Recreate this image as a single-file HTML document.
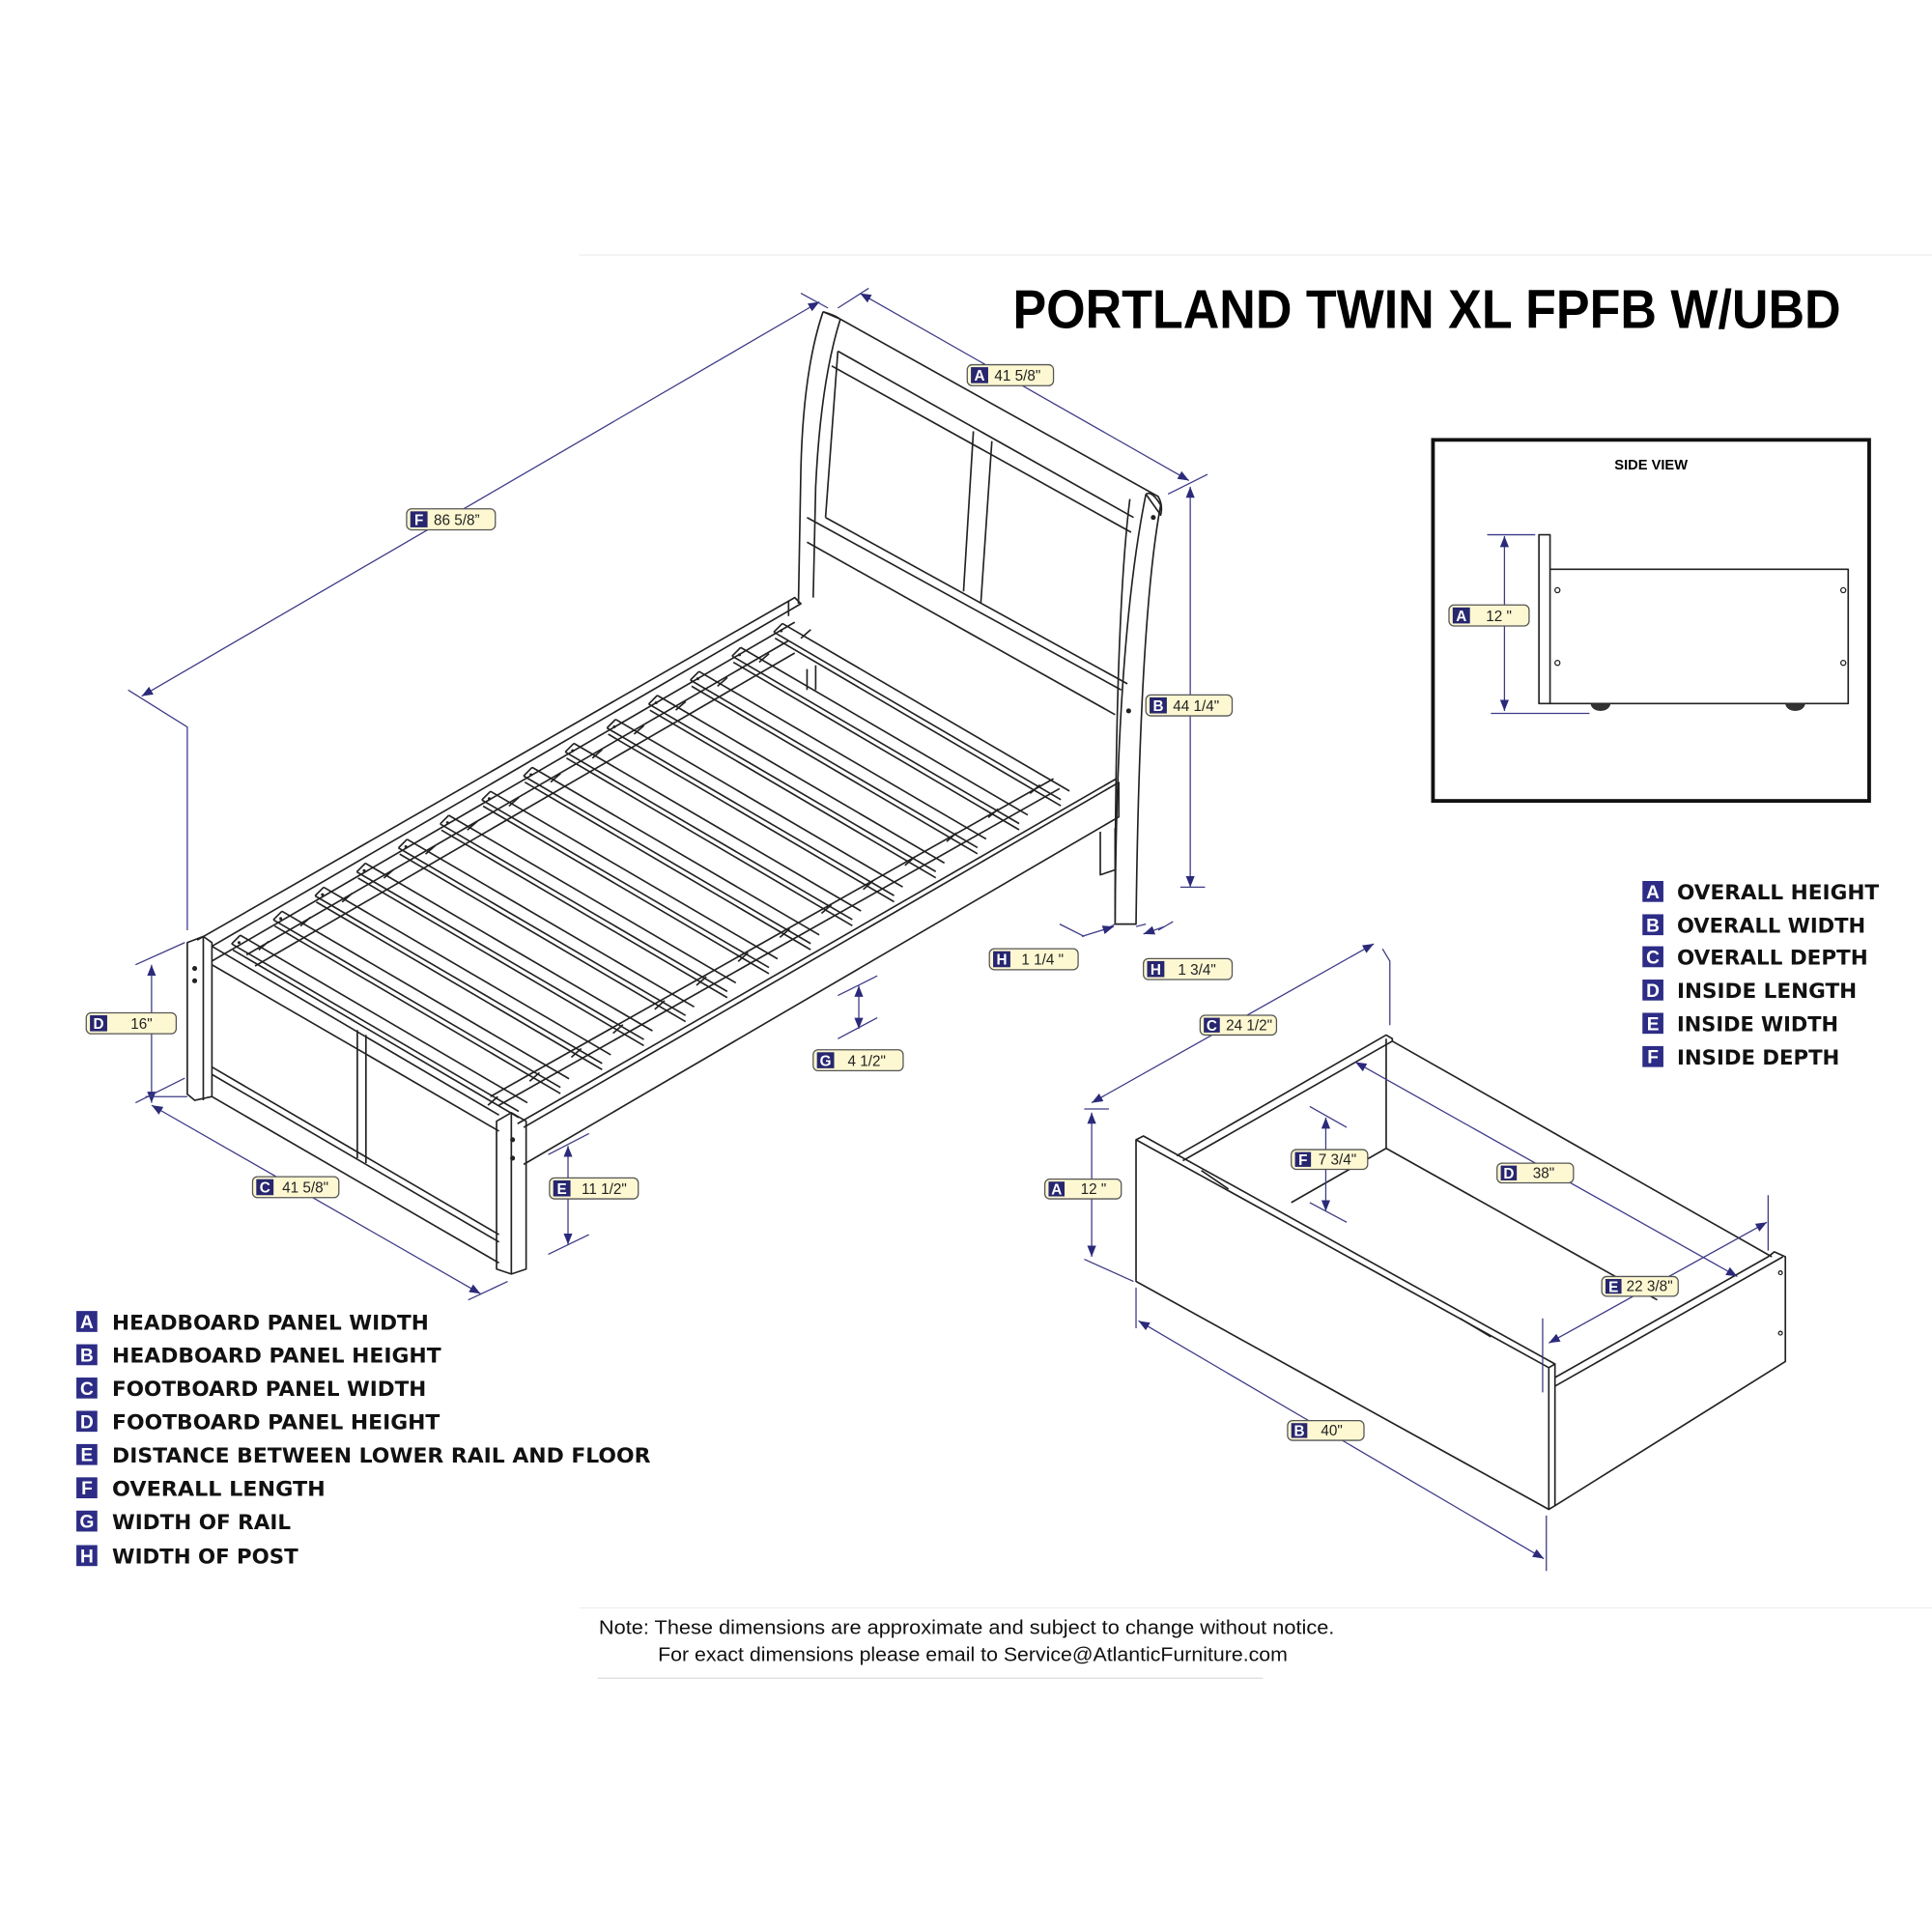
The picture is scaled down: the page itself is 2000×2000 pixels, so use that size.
<!DOCTYPE html>
<html><head><meta charset="utf-8"><style>
html,body{margin:0;padding:0;background:#fff;}
svg{display:block;}
.l{fill:none;stroke:#222;stroke-width:1.3;stroke-linejoin:round}
.d{fill:none;stroke:#3b3a86;stroke-width:1}
.t{font-family:"Liberation Sans",sans-serif;font-size:12px;fill:#222}
.k{font-family:"Liberation Sans",sans-serif;font-size:12px;font-weight:bold;fill:#fff;text-anchor:middle}
.lg{font-family:"DejaVu Sans","Liberation Sans",sans-serif;font-size:16.5px;font-weight:bold;fill:#111}
.lk{font-family:"Liberation Sans",sans-serif;font-size:15px;font-weight:bold;fill:#fff;text-anchor:middle}
</style></head><body>
<svg id="s" width="2000" height="2000" viewBox="0 0 1568 1568" xmlns="http://www.w3.org/2000/svg">
<defs>
<marker id="ar" viewBox="0 0 10 10" refX="10" refY="5" markerWidth="9" markerHeight="9" orient="auto-start-reverse"><path d="M0,1 L10,5 L0,9 z" fill="#2b2a7a"/></marker>
</defs>
<rect width="1568" height="1568" fill="#fff"/>
<line x1="470" y1="207" x2="1568" y2="207" stroke="#eee"/>
<line x1="470" y1="1305" x2="1568" y2="1305" stroke="#eee"/>
<line x1="485" y1="1362" x2="1025" y2="1362" stroke="#ddd"/>

<text x="822" y="266" font-family="Liberation Sans,sans-serif" font-weight="bold" font-size="44" textLength="672" lengthAdjust="spacingAndGlyphs" fill="#000">PORTLAND TWIN XL FPFB W/UBD</text>

<!-- headboard -->
<path class="l" d="M668,253 Q652,300 650,380 L648,490 M682,259 Q666,310 662,395 L660,485"/>
<path class="l" d="M668,253 L682,259 L940,403 Q944,410 942,418 L930,401 M682,259 Q678,256 668,253"/>
<path class="l" d="M930,401 Q935,398 942,410 Q925,500 922,750 L905,750 Q906,520 930,401"/>
<path class="l" d="M917,405 Q905,500 905,748"/>
<path class="l" d="M680,285 L920,420 M670,420 L680,285 M655,420 L910,560 M655,440 L905,580 M670,420 L915,555"/>
<path class="l" d="M790,350 L782,480 M805,358 L796,490"/>
<path class="l" d="M675,297 L918,432"/>
<circle cx="936" cy="420" r="2" fill="#222"/><circle cx="916" cy="577" r="2" fill="#222"/>
<path class="l" d="M893,675 L893,710 L905,706 L905,672"/>
<path class="l" d="M655,543 L655,560 M662,540 L662,560"/>

<!-- side rails -->
<path class="l" d="M160,763 L645,485 L650,490 L172,768 M172,780 L645,505 M640,488 L640,500"/>
<path class="l" d="M425,915 L908,635 L908,663 L425,945"/>
<path class="l" d="M420,912 L906,632"/>
<!-- footboard -->
<path class="l" d="M152,765 L165,760 L172,765 L172,890 L158,893 L152,888 Z M165,760 L165,893"/>
<path class="l" d="M172,768 L405,905 M172,783 L405,918 M172,866 L405,1002 M172,872 L405,1008 M172,890 L405,1025"/>
<path class="l" d="M290,836 L290,940 M297,840 L297,944"/>
<path class="l" d="M403,910 L415,903 L427,910 L427,1030 L415,1034 L403,1030 Z M415,903 L415,1034"/>
<circle cx="158" cy="786" r="2" fill="#222"/><circle cx="158" cy="796" r="2" fill="#222"/>
<circle cx="416" cy="925" r="2" fill="#222"/><circle cx="416" cy="940" r="2" fill="#222"/>
<g id="slats"></g>

<!-- dimension lines bed -->
<line class="d" x1="115" y1="565" x2="665" y2="245" marker-start="url(#ar)" marker-end="url(#ar)"/>
<path class="d" d="M104,560 L152,590 L152,755 M650,238 L672,250"/>
<line class="d" x1="698" y1="238" x2="965" y2="390" marker-start="url(#ar)" marker-end="url(#ar)"/>
<path class="d" d="M680,250 L705,234 M948,401 L980,385"/>
<line class="d" x1="966" y1="395" x2="966" y2="720" marker-start="url(#ar)" marker-end="url(#ar)"/>
<path class="d" d="M958,720 L978,720"/>
<line class="d" x1="123" y1="783" x2="123" y2="895" marker-start="url(#ar)" marker-end="url(#ar)"/>
<path class="d" d="M110,783 L150,765 M110,895 L150,875"/>
<line class="d" x1="123" y1="897" x2="390" y2="1050" marker-start="url(#ar)" marker-end="url(#ar)"/>
<path class="d" d="M118,890 L152,890 M380,1055 L412,1040"/>
<line class="d" x1="697" y1="800" x2="697" y2="835" marker-start="url(#ar)" marker-end="url(#ar)"/>
<path class="d" d="M680,808 L712,792 M680,843 L712,826"/>
<line class="d" x1="461" y1="930" x2="461" y2="1010" marker-start="url(#ar)" marker-end="url(#ar)"/>
<path class="d" d="M445,937 L478,920 M445,1018 L478,1002"/>
<path class="d" d="M860,750 L880,760 M896,755 L905,750 M922,752 L930,750 M940,755 L952,748"/>
<line class="d" x1="878" y1="760" x2="904" y2="752" marker-end="url(#ar)"/>
<line class="d" x1="928" y1="758" x2="945" y2="752" marker-start="url(#ar)"/>

<!-- side view -->
<rect x="1163" y="357" width="354" height="293" fill="none" stroke="#111" stroke-width="3"/>
<text x="1340" y="381" text-anchor="middle" font-family="Liberation Sans,sans-serif" font-weight="bold" font-size="11.5">SIDE VIEW</text>
<path class="l" d="M1249,434 L1258,434 L1258,571 L1249,571 Z M1258,462 L1500,462 L1500,571 L1258,571" stroke-width="1"/>
<circle cx="1264" cy="479" r="2" fill="none" stroke="#222"/><circle cx="1264" cy="538" r="2" fill="none" stroke="#222"/>
<circle cx="1496" cy="479" r="2" fill="none" stroke="#222"/><circle cx="1496" cy="538" r="2" fill="none" stroke="#222"/>
<path d="M1291,571 a8,6 0 0 0 16,0 z M1449,571 a8,6 0 0 0 16,0 z" fill="#333"/>
<line class="d" x1="1221" y1="435" x2="1221" y2="577" marker-start="url(#ar)" marker-end="url(#ar)"/>
<path class="d" d="M1207,434 L1246,434 M1210,579 L1290,579"/>

<!-- drawer -->
<path class="l" d="M922,925 L1257,1110 L1257,1225 L922,1040 Z M922,925 L928,922 L1262,1107 L1257,1110 M1262,1107 L1262,1222 L1257,1225"/>
<path class="l" d="M1262,1125 L1447,1020 M1262,1222 L1449,1105 L1449,1020 L1440,1016 L1435,1020 L1262,1118"/>
<path class="l" d="M955,938 L1125,840 L1130,843 L1130,845 L960,942 M1125,843 L1125,932 M1130,845 L1438,1020"/>
<path class="l" d="M1125,932 L1048,976 M1125,932 L1345,1055"/>
<path class="l" d="M975,950 L997,965 M1185,1070 L1210,1085"/>
<circle cx="1445" cy="1033" r="1.5" fill="none" stroke="#222"/><circle cx="1445" cy="1082" r="1.5" fill="none" stroke="#222"/>
<line class="d" x1="886" y1="903" x2="886" y2="1020" marker-start="url(#ar)" marker-end="url(#ar)"/>
<path class="d" d="M880,900 L900,900 M880,1022 L920,1040"/>
<line class="d" x1="886" y1="895" x2="1115" y2="766" marker-start="url(#ar)" marker-end="url(#ar)"/>
<path class="d" d="M1122,770 L1128,780 L1128,832"/>
<line class="d" x1="1076" y1="907" x2="1076" y2="983" marker-start="url(#ar)" marker-end="url(#ar)"/>
<path class="d" d="M1063,898 L1093,915 M1063,976 L1093,992"/>
<line class="d" x1="1100" y1="862" x2="1410" y2="1036" marker-start="url(#ar)" marker-end="url(#ar)"/>
<line class="d" x1="1257" y1="1090" x2="1434" y2="992" marker-start="url(#ar)" marker-end="url(#ar)"/>
<path class="d" d="M1252,1070 L1252,1130 M1435,970 L1435,1015"/>
<line class="d" x1="924" y1="1072" x2="1253" y2="1265" marker-start="url(#ar)" marker-end="url(#ar)"/>
<path class="d" d="M922,1045 L922,1078 M1255,1230 L1255,1275"/>

<!-- labels -->
<g font-family="Liberation Sans,sans-serif">
<g transform="translate(785,296)"><rect width="70" height="17" rx="4" fill="#fdf8d2" stroke="#555"/><rect x="3" y="2" width="14" height="13" fill="#27266f"/><text class="k" x="10" y="13">A</text><text class="t" x="22" y="13">41 5/8"</text></g>
<g transform="translate(330,413)"><rect width="72" height="17" rx="4" fill="#fdf8d2" stroke="#555"/><rect x="3" y="2" width="14" height="13" fill="#27266f"/><text class="k" x="10" y="13">F</text><text class="t" x="22" y="13">86 5/8”</text></g>
<g transform="translate(930,564)"><rect width="70" height="17" rx="4" fill="#fdf8d2" stroke="#555"/><rect x="3" y="2" width="14" height="13" fill="#27266f"/><text class="k" x="10" y="13">B</text><text class="t" x="22" y="13">44 1/4"</text></g>
<g transform="translate(803,770)"><rect width="72" height="17" rx="4" fill="#fdf8d2" stroke="#555"/><rect x="3" y="2" width="14" height="13" fill="#27266f"/><text class="k" x="10" y="13">H</text><text class="t" x="26" y="13">1 1/4 "</text></g>
<g transform="translate(928,778)"><rect width="72" height="17" rx="4" fill="#fdf8d2" stroke="#555"/><rect x="3" y="2" width="14" height="13" fill="#27266f"/><text class="k" x="10" y="13">H</text><text class="t" x="28" y="13">1 3/4"</text></g>
<g transform="translate(70,822)"><rect width="73" height="17" rx="4" fill="#fdf8d2" stroke="#555"/><rect x="3" y="2" width="14" height="13" fill="#27266f"/><text class="k" x="10" y="13">D</text><text class="t" x="36" y="13">16"</text></g>
<g transform="translate(660,852)"><rect width="73" height="17" rx="4" fill="#fdf8d2" stroke="#555"/><rect x="3" y="2" width="14" height="13" fill="#27266f"/><text class="k" x="10" y="13">G</text><text class="t" x="28" y="13">4 1/2"</text></g>
<g transform="translate(205,955)"><rect width="70" height="17" rx="4" fill="#fdf8d2" stroke="#555"/><rect x="3" y="2" width="14" height="13" fill="#27266f"/><text class="k" x="10" y="13">C</text><text class="t" x="24" y="13">41 5/8"</text></g>
<g transform="translate(446,956)"><rect width="72" height="17" rx="4" fill="#fdf8d2" stroke="#555"/><rect x="3" y="2" width="14" height="13" fill="#27266f"/><text class="k" x="10" y="13">E</text><text class="t" x="26" y="13">11 1/2"</text></g>
<g transform="translate(974,824)"><rect width="62" height="16" rx="4" fill="#fdf8d2" stroke="#555"/><rect x="3" y="2" width="13" height="12" fill="#27266f"/><text class="k" x="9.5" y="12.5" font-size="11">C</text><text class="t" x="21" y="12" font-size="11">24 1/2"</text></g>
<g transform="translate(1048,933)"><rect width="62" height="16" rx="4" fill="#fdf8d2" stroke="#555"/><rect x="3" y="2" width="13" height="12" fill="#27266f"/><text class="k" x="9.5" y="12.5" font-size="11">F</text><text class="t" x="22" y="12" font-size="11">7 3/4"</text></g>
<g transform="translate(1215,944)"><rect width="62" height="16" rx="4" fill="#fdf8d2" stroke="#555"/><rect x="3" y="2" width="13" height="12" fill="#27266f"/><text class="k" x="9.5" y="12.5" font-size="11">D</text><text class="t" x="29" y="12" font-size="11">38"</text></g>
<g transform="translate(848,957)"><rect width="62" height="16" rx="4" fill="#fdf8d2" stroke="#555"/><rect x="3" y="2" width="13" height="12" fill="#27266f"/><text class="k" x="9.5" y="12.5" font-size="11">A</text><text class="t" x="29" y="12" font-size="11">12 "</text></g>
<g transform="translate(1300,1036)"><rect width="62" height="16" rx="4" fill="#fdf8d2" stroke="#555"/><rect x="3" y="2" width="13" height="12" fill="#27266f"/><text class="k" x="9.5" y="12.5" font-size="11">E</text><text class="t" x="20" y="12" font-size="11">22 3/8"</text></g>
<g transform="translate(1045,1153)"><rect width="62" height="16" rx="4" fill="#fdf8d2" stroke="#555"/><rect x="3" y="2" width="13" height="12" fill="#27266f"/><text class="k" x="9.5" y="12.5" font-size="11">B</text><text class="t" x="27" y="12" font-size="11">40"</text></g>
<g transform="translate(1176,491)"><rect width="65" height="17" rx="4" fill="#fdf8d2" stroke="#555"/><rect x="3" y="2" width="14" height="13" fill="#27266f"/><text class="k" x="10" y="13">A</text><text class="t" x="30" y="13">12 "</text></g>
</g>

<!-- legends -->
<g>
<rect x="62" y="1064" width="17" height="17" fill="#2d2c86"/><text class="lk" x="70.5" y="1078">A</text><text class="lg" x="91" y="1079" textLength="257" lengthAdjust="spacingAndGlyphs">HEADBOARD PANEL WIDTH</text>
<rect x="62" y="1091" width="17" height="17" fill="#2d2c86"/><text class="lk" x="70.5" y="1105">B</text><text class="lg" x="91" y="1106" textLength="267" lengthAdjust="spacingAndGlyphs">HEADBOARD PANEL HEIGHT</text>
<rect x="62" y="1118" width="17" height="17" fill="#2d2c86"/><text class="lk" x="70.5" y="1132">C</text><text class="lg" x="91" y="1133" textLength="255" lengthAdjust="spacingAndGlyphs">FOOTBOARD PANEL WIDTH</text>
<rect x="62" y="1145" width="17" height="17" fill="#2d2c86"/><text class="lk" x="70.5" y="1159">D</text><text class="lg" x="91" y="1160" textLength="266" lengthAdjust="spacingAndGlyphs">FOOTBOARD PANEL HEIGHT</text>
<rect x="62" y="1172" width="17" height="17" fill="#2d2c86"/><text class="lk" x="70.5" y="1186">E</text><text class="lg" x="91" y="1187" textLength="437" lengthAdjust="spacingAndGlyphs">DISTANCE BETWEEN LOWER RAIL AND FLOOR</text>
<rect x="62" y="1199" width="17" height="17" fill="#2d2c86"/><text class="lk" x="70.5" y="1213">F</text><text class="lg" x="91" y="1214" textLength="173" lengthAdjust="spacingAndGlyphs">OVERALL LENGTH</text>
<rect x="62" y="1226" width="17" height="17" fill="#2d2c86"/><text class="lk" x="70.5" y="1240">G</text><text class="lg" x="91" y="1241" textLength="145" lengthAdjust="spacingAndGlyphs">WIDTH OF RAIL</text>
<rect x="62" y="1254" width="17" height="17" fill="#2d2c86"/><text class="lk" x="70.5" y="1268">H</text><text class="lg" x="91" y="1269" textLength="151" lengthAdjust="spacingAndGlyphs">WIDTH OF POST</text>

<rect x="1333" y="715" width="17" height="17" fill="#2d2c86"/><text class="lk" x="1341.5" y="729">A</text><text class="lg" x="1361" y="730" textLength="164" lengthAdjust="spacingAndGlyphs">OVERALL HEIGHT</text>
<rect x="1333" y="742" width="17" height="17" fill="#2d2c86"/><text class="lk" x="1341.5" y="756">B</text><text class="lg" x="1361" y="757" textLength="153" lengthAdjust="spacingAndGlyphs">OVERALL WIDTH</text>
<rect x="1333" y="768" width="17" height="17" fill="#2d2c86"/><text class="lk" x="1341.5" y="782">C</text><text class="lg" x="1361" y="783" textLength="155" lengthAdjust="spacingAndGlyphs">OVERALL DEPTH</text>
<rect x="1333" y="795" width="17" height="17" fill="#2d2c86"/><text class="lk" x="1341.5" y="809">D</text><text class="lg" x="1361" y="810" textLength="146" lengthAdjust="spacingAndGlyphs">INSIDE LENGTH</text>
<rect x="1333" y="822" width="17" height="17" fill="#2d2c86"/><text class="lk" x="1341.5" y="836">E</text><text class="lg" x="1361" y="837" textLength="131" lengthAdjust="spacingAndGlyphs">INSIDE WIDTH</text>
<rect x="1333" y="849" width="17" height="17" fill="#2d2c86"/><text class="lk" x="1341.5" y="863">F</text><text class="lg" x="1361" y="864" textLength="132" lengthAdjust="spacingAndGlyphs">INSIDE DEPTH</text>
</g>

<text x="486" y="1326" font-family="Liberation Sans,sans-serif" font-size="16" fill="#111" textLength="597" lengthAdjust="spacingAndGlyphs">Note:  These dimensions are approximate and subject to change without notice.</text>
<text x="534" y="1348" font-family="Liberation Sans,sans-serif" font-size="16" fill="#111" textLength="511" lengthAdjust="spacingAndGlyphs">For exact dimensions please email to Service@AtlanticFurniture.com</text>
</svg>
<script>
(function(){
var g=document.getElementById('slats'),h='';
var n=14,sx=188,sy=766,ex=628,ey=513,vx=233,vy=136;
for(var i=0;i<n;i++){
 var x=sx+(ex-sx)*i/(n-1),y=sy+(ey-sy)*i/(n-1);
 var wx=7,wy=-7;
 h+='<path class="l" d="M'+x+','+y+' L'+(x+vx)+','+(y+vy)+' M'+(x+wx)+','+(y+wy)+' L'+(x+wx+vx)+','+(y+wy+vy)+' M'+x+','+y+' L'+(x+wx)+','+(y+wy)+' M'+(x+1)+','+(y+5)+' L'+(x+vx)+','+(y+vy+5)+'"/>';
 h+='<circle cx="'+(x+6)+'" cy="'+(y-1)+'" r="1.2" fill="#222"/>';
 h+='<path class="l" stroke-width="0.8" d="M'+(x+22)+','+(y+5)+' L'+(x+30)+','+(y-2)+' M'+(x+vx-25)+','+(y+vy-5)+' L'+(x+vx-17)+','+(y+vy-12)+'"/>';
}
h+='<path class="l" stroke-width="0.9" d="M200,775 L640,520 M207,784 L645,530 M405,897 L860,640 M398,890 L855,632"/>';
g.innerHTML=h;
})();
</script>
</body></html>
